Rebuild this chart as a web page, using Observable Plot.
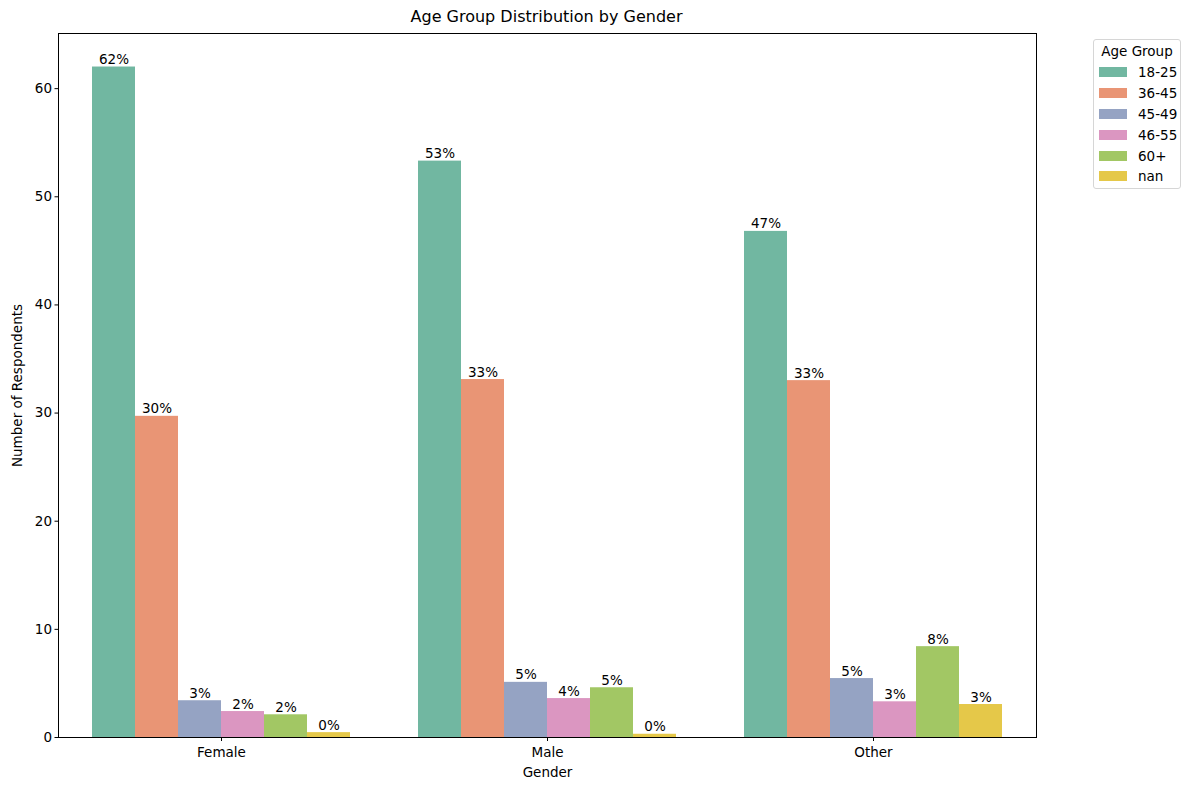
<!DOCTYPE html>
<html>
<head>
<meta charset="utf-8">
<script src="https://cdn.jsdelivr.net/npm/d3@7"></script>
<script src="https://cdn.jsdelivr.net/npm/@observablehq/plot@0.6"></script>
<style>
  html, body { margin: 0; padding: 0; background: #fff; }
  body { font-family: "DejaVu Sans", sans-serif; color: #000; }
  #wrap { position: relative; width: 1192px; height: 790px; }
  #title { position: absolute; left: 57px; width: 979px; top: 7px; text-align: center; font-size: 16px; }
  #legend { position: absolute; left: 1093px; top: 39px; width: 88px; height: 150px; border: 1px solid #d6d6d6; border-radius: 3px; box-sizing: border-box; font-size: 13.5px; }
  #legend .lt { text-align: center; margin-top: 3px; height: 19px; }
  #legend .it { display: flex; align-items: center; height: 20.8px; }
  #legend .sw { width: 28px; height: 10px; margin-left: 5px; margin-right: 11px; }
</style>
</head>
<body>
<div id="wrap">
  <div id="title">Age Group Distribution by Gender</div>
  <div id="chart"></div>
  <div id="legend"></div>
</div>
<script>
const genders = ["Female", "Male", "Other"];
const ageGroups = ["18-25", "36-45", "45-49", "46-55", "60+", "nan"];
const femaleValues = [62.0, 29.7, 3.4, 2.4, 2.1, 0.45];
const maleValues = [53.3, 33.1, 5.1, 3.6, 4.6, 0.3];
const otherValues = [46.8, 33.0, 5.45, 3.3, 8.4, 3.05];
const yTicks = [0, 10, 20, 30, 40, 50, 60];
const colors = ["#71b7a1", "#e99575", "#95a3c3", "#db96c1", "#a2c764", "#e5c849"];

const seriesByGender = [femaleValues, maleValues, otherValues];
const rows = [];
genders.forEach((g, gi) => ageGroups.forEach((a, ai) => rows.push({gender: g, age: a, value: seriesByGender[gi][ai]})));

const chart = Plot.plot({
  width: 1192,
  height: 790,
  marginLeft: 57,
  marginRight: 156,
  marginTop: 33,
  marginBottom: 53,
  style: {fontFamily: "DejaVu Sans, sans-serif", fontSize: "13.5px", color: "#000", background: "white"},
  fx: {domain: genders, padding: 0},
  x: {domain: ageGroups, paddingInner: 0, paddingOuter: 0.75, axis: null},
  y: {domain: [0, 65.1]},
  color: {domain: ageGroups, range: colors},
  marks: [
    Plot.barY(rows, {fx: "gender", x: "age", y: "value", fill: "age"}),
    Plot.text(rows, {fx: "gender", x: "age", y: "value", text: d => Math.round(d.value) + "%", lineAnchor: "bottom", dy: -3, fill: "#000", fontSize: 13.5}),
    Plot.axisY({ticks: yTicks, tickSize: 3.5, tickPadding: 3, label: "Number of Respondents", labelAnchor: "center", labelArrow: "none", labelOffset: 46, tickFormat: d => d}),
    Plot.axisFx({anchor: "bottom", tickSize: 4, tickPadding: 6, label: "Gender", labelAnchor: "center", labelArrow: "none", labelOffset: 39}),
    Plot.ruleY([0], {stroke: "#000", strokeWidth: 1}),
    Plot.ruleY([65.1], {stroke: "#000", strokeWidth: 1}),
    Plot.frame({anchor: "left", facetAnchor: "left", stroke: "#000"}),
    Plot.frame({anchor: "right", facetAnchor: "right", stroke: "#000"})
  ]
});
document.getElementById("chart").appendChild(chart);

const legend = document.getElementById("legend");
const lt = document.createElement("div");
lt.className = "lt";
lt.textContent = "Age Group";
legend.appendChild(lt);
ageGroups.forEach((a, i) => {
  const it = document.createElement("div");
  it.className = "it";
  const sw = document.createElement("span");
  sw.className = "sw";
  sw.style.background = colors[i];
  const tx = document.createElement("span");
  tx.textContent = a;
  it.appendChild(sw);
  it.appendChild(tx);
  legend.appendChild(it);
});
</script>
</body>
</html>
